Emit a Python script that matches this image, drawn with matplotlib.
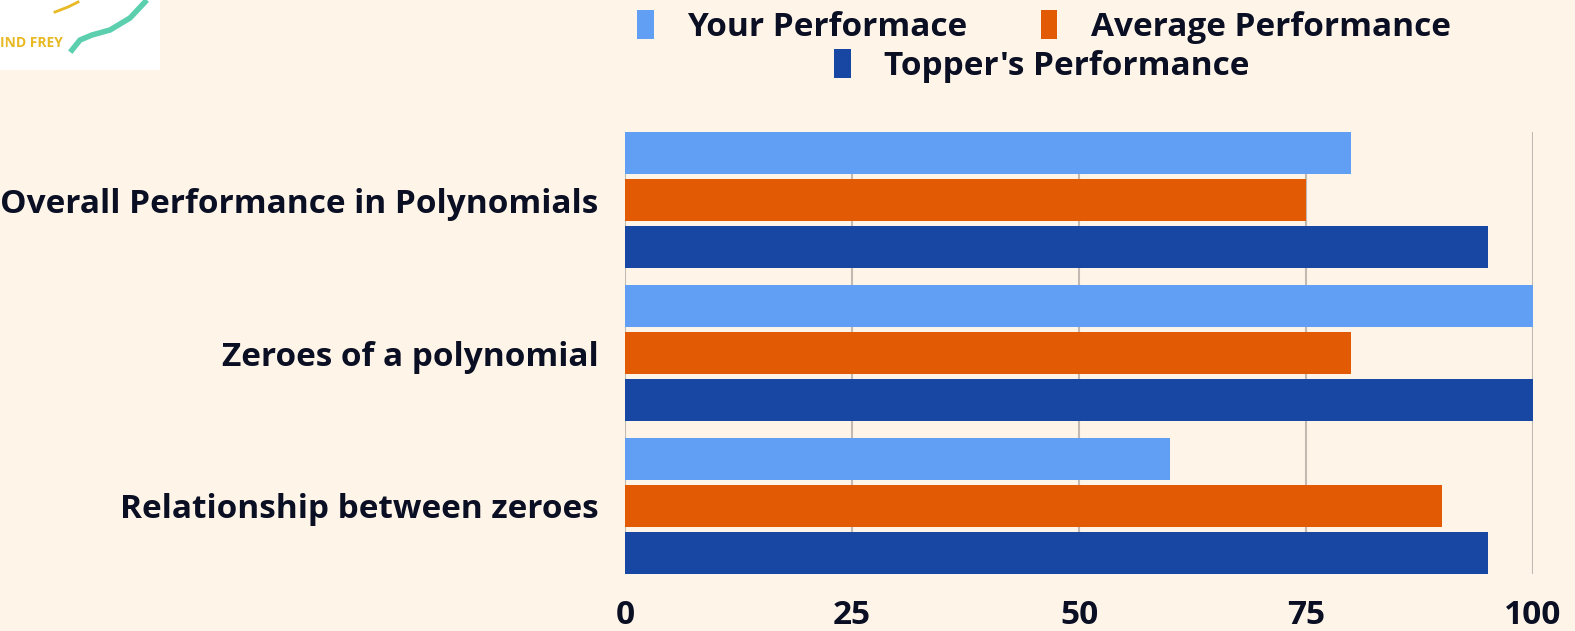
import matplotlib.pyplot as plt
import numpy as np
from matplotlib.patches import Rectangle
from matplotlib.lines import Line2D

# data
topics = ["Overall Performance in Polynomials", "Zeroes of a polynomial", "Relationship between zeroes"]
your_perf = [80, 100, 60]
avg_perf = [75, 80, 90]
topper_perf = [95, 100, 95]
series_names = ["Your Performace", "Average Performance", "Topper's Performance"]
x_ticks = [0, 25, 50, 75, 100]

bg = "#fef5e8"
colors = ["#619ff5", "#e35a05", "#1847a3"]
txt = '#0b0f24'
plt.rcParams['font.family'] = ['Open Sans', 'DejaVu Sans']

W, H = 1575, 631
fig = plt.figure(figsize=(15.75, 6.31), dpi=100, facecolor=bg)
ax = fig.add_axes([625 / W, 1 - 574 / H, (1533 - 625) / W, (574 - 132) / H])
ax.set_facecolor(bg)

y = np.arange(len(topics))
pitch = 0.307
h = 0.275
bars = []
for i, vals in enumerate([your_perf, avg_perf, topper_perf]):
    b = ax.barh(y + (i - 1) * pitch, vals, height=h, color=colors[i],
                label=series_names[i], zorder=3)
    bars.append(b)

ax.set_xlim(0, 100)
ax.set_ylim(2 + pitch + h / 2, -pitch - h / 2)
ax.set_xticks(x_ticks)
ax.set_xticklabels([str(t) for t in x_ticks], fontsize=24, fontweight='bold', color=txt)
ax.set_yticks(y)
ax.set_yticklabels(topics, fontsize=24, fontweight='bold', color=txt)
ax.tick_params(length=0)
ax.tick_params(axis='x', pad=18)
ax.tick_params(axis='y', pad=19)
for s in ax.spines.values():
    s.set_visible(False)
ax.grid(axis='x', color='#c2bab2', linewidth=1.5, zorder=0)
ax.grid(axis='y', visible=False)

# legend: two rows, centered
leg_kw = dict(loc='center', frameon=False, prop={'size': 24, 'weight': 'bold'},
              handlelength=0.5, handleheight=0.95, handletextpad=1.0)
leg1 = fig.legend(handles=bars[:2], labels=series_names[:2],
                  bbox_to_anchor=(1044 / W, 1 - 27 / H), ncol=2, columnspacing=2.2, **leg_kw)
leg2 = fig.legend(handles=bars[2:], labels=series_names[2:],
                  bbox_to_anchor=(1042 / W, 1 - 66 / H), **leg_kw)
for lg in (leg1, leg2):
    for t in lg.get_texts():
        t.set_color(txt)

# logo fragment top-left
fig.patches.append(Rectangle((0, 1 - 70 / H), 160 / W, 70 / H,
                             transform=fig.transFigure, facecolor='white', edgecolor='none', zorder=0))
fig.text(0, 1 - 43 / H, "IND FREY", fontsize=10, fontweight='bold', color='#e8b923', va='center')
fig.add_artist(Line2D([72 / W, 80 / W, 92 / W, 110 / W, 130 / W, 145 / W],
                      [1 - 50 / H, 1 - 40 / H, 1 - 35 / H, 1 - 30 / H, 1 - 18 / H, 1 - 2 / H],
                      transform=fig.transFigure, color='#5ccfae', linewidth=4))
fig.add_artist(Line2D([55 / W, 68 / W, 78 / W], [1 - 12 / H, 1 - 7 / H, 1 - 2 / H],
                      transform=fig.transFigure, color='#e8b923', linewidth=2))

fig.savefig("out.png", dpi=100, facecolor=bg)
